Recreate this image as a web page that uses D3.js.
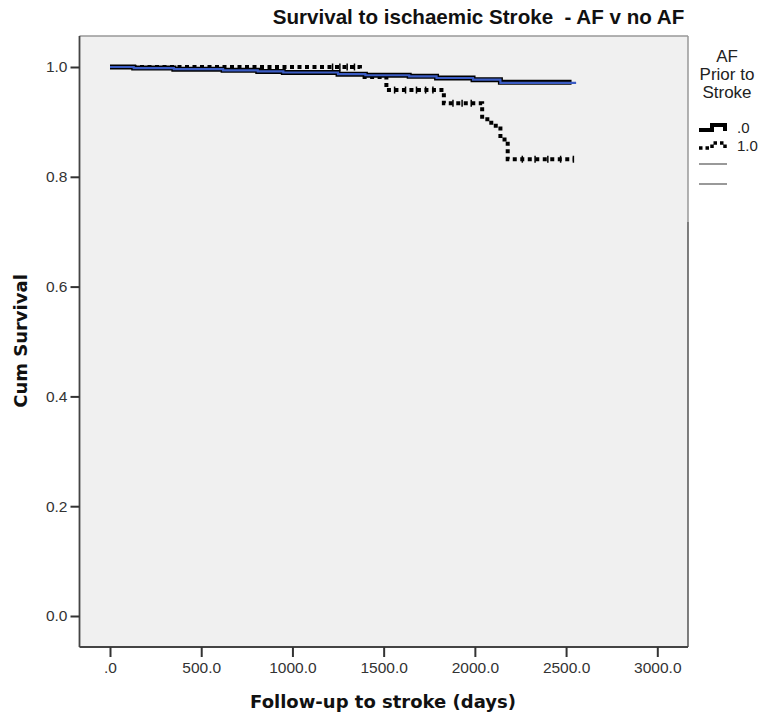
<!DOCTYPE html>
<html><head><meta charset="utf-8">
<script src="https://cdn.jsdelivr.net/npm/d3@7"></script>
<style>
body{margin:0;background:#fff;}
svg{display:block;}
</style></head>
<body>
<svg id="chart" width="760" height="720"></svg>
<script>
// ---- data ----
const title = "Survival to ischaemic Stroke  - AF v no AF";
const xTicks = [0, 500, 1000, 1500, 2000, 2500, 3000];
const yTicks = [0, 0.2, 0.4, 0.6, 0.8, 1.0];
const legendTitle = ["AF", "Prior to", "Stroke"];
const groupLabels = [".0", "1.0"];
// group .0 (no AF): step times and cumulative survival
const g0Times = [0, 130, 350, 620, 810, 950, 1250, 1400, 1640, 1790, 1990, 2140, 2530];
const g0Surv  = [1.000, 0.998, 0.996, 0.994, 0.992, 0.990, 0.987, 0.985, 0.983, 0.980, 0.977, 0.972, 0.972];
// overlaid blue line
const blueTimes = [0, 130, 350, 620, 810, 950, 1250, 1400, 1640, 1790, 1990, 2140, 2555];
const blueSurv  = [1.000, 0.998, 0.996, 0.994, 0.992, 0.990, 0.987, 0.985, 0.983, 0.980, 0.977, 0.971, 0.971];
// group 1.0 (AF)
const g1Times = [0, 1370, 1515, 1830, 2040, 2090, 2140, 2180, 2540];
const g1Surv  = [1.000, 0.982, 0.958, 0.934, 0.905, 0.893, 0.868, 0.832, 0.832];
// censor marks of group 1.0
const g1CensorTimes = [1220, 1260, 1300, 1340, 1560, 1620, 1680, 1730, 1770, 1880, 1930, 1980, 2260, 2330, 2400, 2470, 2540];
const g1CensorSurv  = [1.000, 1.000, 1.000, 1.000, 0.958, 0.958, 0.958, 0.958, 0.958, 0.934, 0.934, 0.934, 0.832, 0.832, 0.832, 0.832, 0.832];

// ---- layout ----
const svg = d3.select("#chart");
const frame = {l: 79.5, r: 688, t: 36, b: 647};
const x = d3.scaleLinear().domain([0, 3000]).range([110, 657.3]);
const y = d3.scaleLinear().domain([0, 1]).range([616, 67]);

// plot background
svg.append("rect").attr("x", frame.l).attr("y", frame.t)
  .attr("width", frame.r - frame.l).attr("height", frame.b - frame.t)
  .attr("fill", "#f0f0f0");
// frame lines
svg.append("line").attr("x1", frame.l).attr("x2", frame.r).attr("y1", frame.t).attr("y2", frame.t)
  .attr("stroke", "#999").attr("stroke-width", 1.5);
svg.append("line").attr("x1", frame.r).attr("x2", frame.r).attr("y1", frame.t).attr("y2", 222)
  .attr("stroke", "#999").attr("stroke-width", 1.5);
svg.append("line").attr("x1", frame.r).attr("x2", frame.r).attr("y1", 222).attr("y2", frame.b)
  .attr("stroke", "#555").attr("stroke-width", 1.5);

// axes
const yAxis = d3.axisLeft(y).tickValues(yTicks).tickFormat(d3.format(".1f")).tickSize(9).tickPadding(3);
const xAxis = d3.axisBottom(x).tickValues(xTicks).tickFormat(d => d === 0 ? ".0" : d3.format(".1f")(d)).tickSize(10).tickPadding(5);

const gy = svg.append("g").attr("transform", `translate(${frame.l},0)`).call(yAxis);
gy.select(".domain").attr("d", `M0,${frame.t}V${frame.b}`).attr("stroke", "#444").attr("stroke-width", 1.8);
const gx = svg.append("g").attr("transform", `translate(0,${frame.b})`).call(xAxis);
gx.select(".domain").attr("d", `M${frame.l},0H${frame.r}`).attr("stroke", "#444").attr("stroke-width", 1.8);
[gx, gy].forEach(g => {
  g.selectAll(".tick line").attr("stroke", "#333").attr("stroke-width", 2);
  g.selectAll(".tick text").attr("fill", "#333")
    .style("font-family", "'Liberation Sans', Arial, sans-serif").style("font-size", "15.5px");
});

// lines
const toPts = (t, s) => t.map((d, i) => [d, s[i]]);
const line = d3.line().x(d => x(d[0])).y(d => y(d[1])).curve(d3.curveStepAfter);

svg.append("path").datum(toPts(g1Times, g1Surv)).attr("d", line)
  .attr("fill", "none").attr("stroke", "#000").attr("stroke-width", 4)
  .attr("stroke-dasharray", "4,3.5");
svg.append("g").selectAll("line").data(toPts(g1CensorTimes, g1CensorSurv)).join("line")
  .attr("x1", d => x(d[0])).attr("x2", d => x(d[0]))
  .attr("y1", d => y(d[1]) - 3.5).attr("y2", d => y(d[1]) + 3.5)
  .attr("stroke", "#000").attr("stroke-width", 1.5);

svg.append("path").datum(toPts(g0Times, g0Surv)).attr("d", line)
  .attr("fill", "none").attr("stroke", "#000").attr("stroke-width", 5);
svg.append("path").datum(toPts(blueTimes, blueSurv)).attr("d", line)
  .attr("fill", "none").attr("stroke", "#3b5cc4").attr("stroke-width", 2.2);

// titles
svg.append("text").attr("x", 478.5).attr("y", 24).attr("text-anchor", "middle")
  .style("white-space", "pre")
  .style("font-family", "'Liberation Sans', Arial, sans-serif").style("font-weight", "bold")
  .style("font-size", "20.6px").attr("fill", "#111").text(title);
svg.append("text").attr("x", 383).attr("y", 708).attr("text-anchor", "middle")
  .style("font-family", "'DejaVu Sans', sans-serif").style("font-weight", "bold")
  .style("font-size", "18px").attr("fill", "#111").text("Follow-up to stroke (days)");
svg.append("text").attr("transform", "translate(27,341) rotate(-90)").attr("text-anchor", "middle")
  .style("font-family", "'DejaVu Sans', sans-serif").style("font-weight", "bold")
  .style("font-size", "18px").attr("fill", "#111").text("Cum Survival");

// legend
const lg = svg.append("g");
lg.selectAll("text.lt").data(legendTitle).join("text").attr("class", "lt")
  .attr("x", 727).attr("y", (d, i) => 62 + i * 18).attr("text-anchor", "middle")
  .style("font-family", "'Liberation Sans', Arial, sans-serif").style("font-size", "17px")
  .attr("fill", "#222").text(d => d);
lg.selectAll("text.gl").data(groupLabels).join("text").attr("class", "gl")
  .attr("x", 737).attr("y", (d, i) => 133 + i * 18)
  .style("font-family", "'Liberation Sans', Arial, sans-serif").style("font-size", "15px")
  .attr("fill", "#222").text(d => d);
lg.append("path").attr("d", "M699,130H712V125H725V131").attr("fill", "none")
  .attr("stroke", "#000").attr("stroke-width", 4);
lg.append("path").attr("d", "M699,148H712V143H725V148").attr("fill", "none")
  .attr("stroke", "#000").attr("stroke-width", 3.5).attr("stroke-dasharray", "3.5,3");
[164, 184].forEach(yy => lg.append("line").attr("x1", 699).attr("x2", 727).attr("y1", yy).attr("y2", yy)
  .attr("stroke", "#777").attr("stroke-width", 1.5));
</script>
</body></html>
